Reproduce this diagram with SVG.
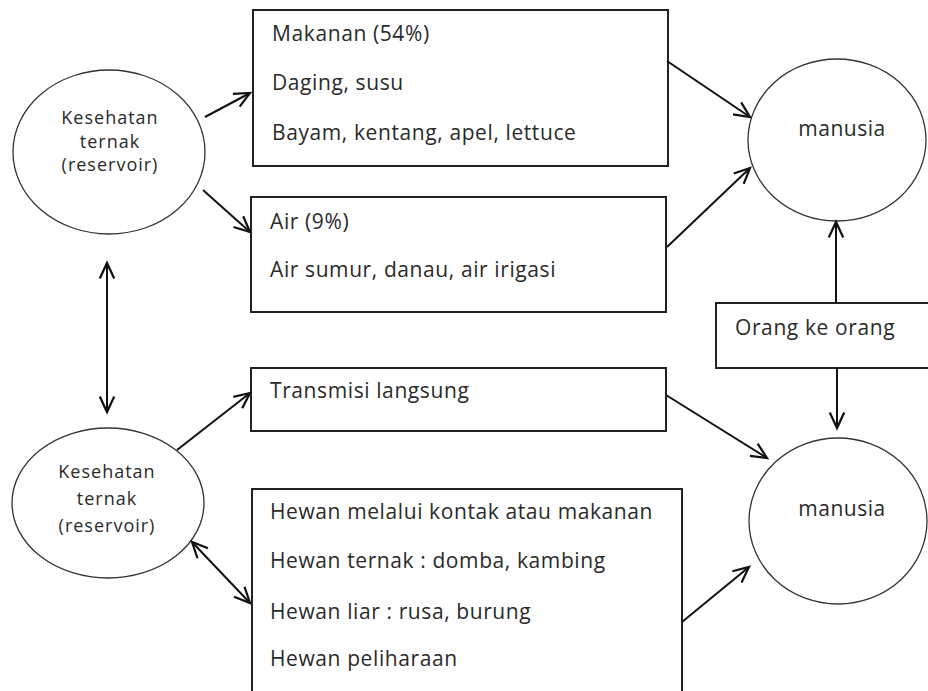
<svg xmlns="http://www.w3.org/2000/svg" width="928" height="691" viewBox="0 0 928 691">
<defs>
<style>
.box{fill:#fff;stroke:#222;stroke-width:2}
.ell{fill:#fff;stroke:#333;stroke-width:1.3}
.bt{font-family:"Open Sans","Liberation Sans",sans-serif;font-size:21px;letter-spacing:0.6px;fill:#2a2a2a}
.et{font-family:"Open Sans","Liberation Sans",sans-serif;font-size:18px;letter-spacing:1px;fill:#2a2a2a;text-anchor:middle}
.mt{font-family:"Open Sans","Liberation Sans",sans-serif;font-size:21px;letter-spacing:0.5px;fill:#2a2a2a;text-anchor:middle}
.con{fill:none;stroke:#111;stroke-width:2}
</style>
<marker id="ah" markerUnits="userSpaceOnUse" markerWidth="20" markerHeight="20" viewBox="-1 -8 18 16" refX="14" refY="0" orient="auto-start-reverse">
<path d="M0,-6.5 L14,0 L0,6.5" fill="none" stroke="#111" stroke-width="2"/>
</marker>
</defs>
<rect width="928" height="691" fill="#fff"/>
<g id="reservoir-top">
<ellipse class="ell" cx="109" cy="152" rx="96" ry="82"/>
<text class="et" x="110" y="124">Kesehatan</text>
<text class="et" x="110" y="148">ternak</text>
<text class="et" x="110" y="171">(reservoir)</text>
</g>
<g id="makanan">
<rect class="box" x="253" y="10" width="415" height="156"/>
<text class="bt" x="272" y="41">Makanan (54%)</text>
<text class="bt" x="272" y="90">Daging, susu</text>
<text class="bt" x="272" y="140">Bayam, kentang, apel, lettuce</text>
</g>
<g id="air">
<rect class="box" x="251" y="197" width="415" height="115"/>
<text class="bt" x="270" y="229">Air (9%)</text>
<text class="bt" x="270" y="277">Air sumur, danau, air irigasi</text>
</g>
<g id="manusia-top">
<ellipse class="ell" cx="837" cy="140" rx="89" ry="81"/>
<text class="mt" x="842" y="136">manusia</text>
</g>
<g id="orang">
<rect class="box" x="716" y="303" width="220" height="65"/>
<text class="bt" x="735" y="335">Orang ke orang</text>
</g>
<g id="reservoir-bottom">
<ellipse class="ell" cx="108" cy="503" rx="96" ry="75"/>
<text class="et" x="107" y="478">Kesehatan</text>
<text class="et" x="107" y="505">ternak</text>
<text class="et" x="107" y="532">(reservoir)</text>
</g>
<g id="transmisi">
<rect class="box" x="251" y="368" width="415" height="63"/>
<text class="bt" x="270" y="398">Transmisi langsung</text>
</g>
<g id="hewan">
<path class="box" d="M252,700 L252,489 L682,489 L682,700"/>
<text class="bt" x="270" y="519">Hewan melalui kontak atau makanan</text>
<text class="bt" x="270" y="568">Hewan ternak : domba, kambing</text>
<text class="bt" x="270" y="619">Hewan liar : rusa, burung</text>
<text class="bt" x="270" y="666">Hewan peliharaan</text>
</g>
<g id="manusia-bottom">
<ellipse class="ell" cx="838" cy="521" rx="89" ry="83"/>
<text class="mt" x="842" y="516">manusia</text>
</g>
<g id="connectors">
<line class="con" x1="205" y1="117" x2="250" y2="93" marker-end="url(#ah)"/>
<line class="con" x1="203" y1="190" x2="250" y2="232" marker-end="url(#ah)"/>
<line class="con" x1="667" y1="61" x2="750" y2="117" marker-end="url(#ah)"/>
<line class="con" x1="667" y1="247" x2="750" y2="168" marker-end="url(#ah)"/>
<line class="con" x1="836" y1="303" x2="836" y2="222" marker-end="url(#ah)"/>
<line class="con" x1="837" y1="368" x2="837" y2="428" marker-end="url(#ah)"/>
<line class="con" x1="107" y1="263" x2="107" y2="412" marker-start="url(#ah)" marker-end="url(#ah)"/>
<line class="con" x1="177" y1="450" x2="250" y2="393" marker-end="url(#ah)"/>
<line class="con" x1="192" y1="542" x2="250" y2="603" marker-start="url(#ah)" marker-end="url(#ah)"/>
<line class="con" x1="666" y1="395" x2="767" y2="458" marker-end="url(#ah)"/>
<line class="con" x1="682" y1="622" x2="749" y2="567" marker-end="url(#ah)"/>
</g>
</svg>
